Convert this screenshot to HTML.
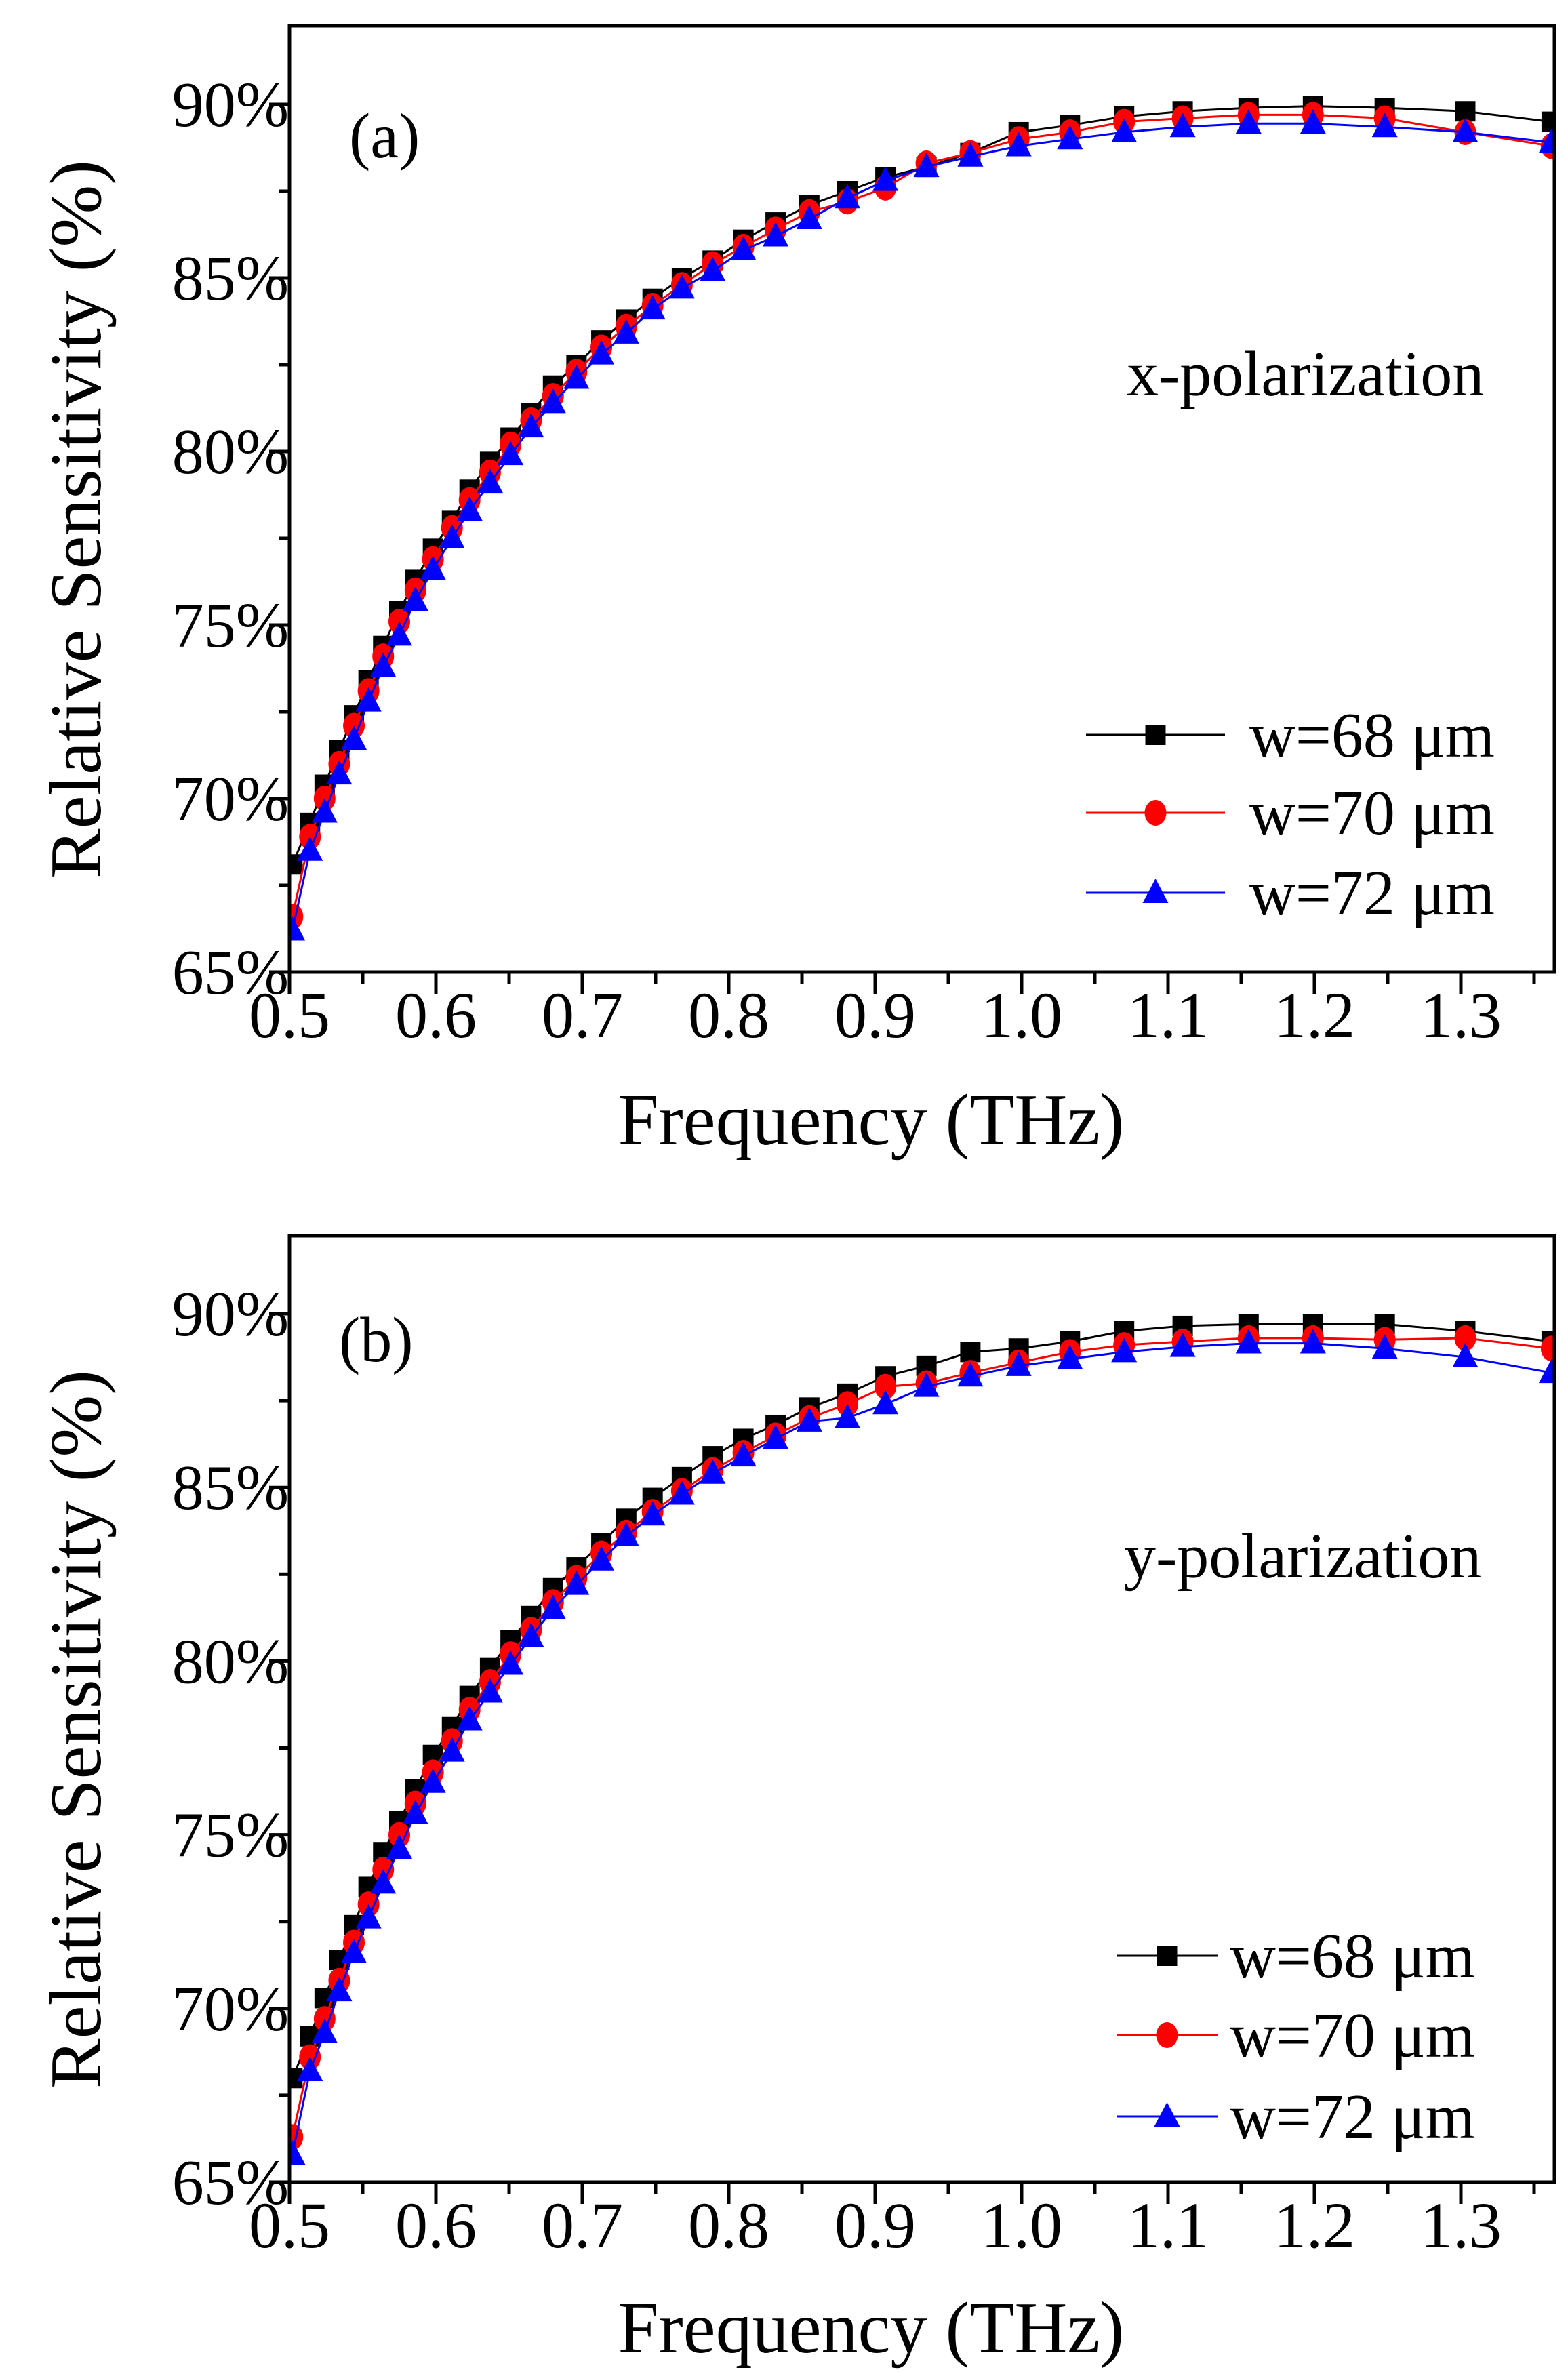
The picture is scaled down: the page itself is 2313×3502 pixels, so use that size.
<!DOCTYPE html>
<html><head><meta charset="utf-8">
<style>
html,body{margin:0;padding:0;background:#fff;}
svg{display:block;}
svg text{font-family:"Liberation Serif","Times New Roman","DejaVu Serif",serif;fill:#000;}
</style></head>
<body>
<svg id="fig" width="2313" height="3502" viewBox="0 0 2313 3502" xmlns="http://www.w3.org/2000/svg"></svg>
<script>
const freqs=[0.502,0.514,0.524,0.534,0.544,0.554,0.564,0.575,0.586,0.598,0.611,0.623,0.637,0.651,0.665,0.680,0.696,0.713,0.730,0.748,0.768,0.789,0.810,0.832,0.855,0.881,0.907,0.935,0.965,0.998,1.033,1.070,1.110,1.155,1.199,1.248,1.303,1.362];
const aW68=[68.1,69.3,70.4,71.4,72.4,73.4,74.4,75.4,76.3,77.2,78.0,78.9,79.7,80.4,81.1,81.9,82.5,83.2,83.8,84.4,85.0,85.5,86.1,86.6,87.1,87.5,87.9,88.2,88.6,89.2,89.4,89.65,89.8,89.9,89.95,89.9,89.8,89.5];
const aW70=[66.6,68.9,70.0,71.0,72.1,73.1,74.1,75.1,76.0,76.9,77.8,78.6,79.4,80.2,80.9,81.6,82.3,83.0,83.6,84.2,84.8,85.4,85.9,86.4,86.9,87.2,87.6,88.3,88.6,89.0,89.2,89.5,89.6,89.7,89.7,89.6,89.2,88.8];
const aW72=[66.2,68.5,69.6,70.7,71.7,72.8,73.8,74.7,75.7,76.6,77.5,78.3,79.1,79.9,80.7,81.4,82.1,82.8,83.4,84.1,84.7,85.2,85.8,86.2,86.7,87.3,87.8,88.2,88.5,88.8,89.0,89.2,89.35,89.45,89.45,89.35,89.2,88.9];
const bW68=[68.0,69.2,70.3,71.4,72.4,73.5,74.5,75.4,76.3,77.3,78.1,79.0,79.8,80.6,81.3,82.1,82.7,83.4,84.1,84.7,85.3,85.9,86.4,86.8,87.3,87.7,88.2,88.5,88.9,89.0,89.2,89.5,89.65,89.7,89.7,89.7,89.5,89.2];
const bW70=[66.3,68.6,69.7,70.8,71.9,73.0,74.0,75.0,75.9,76.8,77.7,78.6,79.4,80.2,80.9,81.7,82.4,83.1,83.7,84.3,84.9,85.5,86.0,86.5,87.0,87.4,87.9,88.0,88.3,88.6,88.9,89.1,89.2,89.3,89.3,89.25,89.3,89.0];
const bW72=[65.8,68.2,69.3,70.5,71.6,72.6,73.6,74.6,75.6,76.5,77.4,78.3,79.1,79.9,80.7,81.5,82.2,82.9,83.6,84.2,84.8,85.4,85.9,86.4,86.9,87.0,87.4,87.9,88.2,88.5,88.7,88.9,89.05,89.15,89.15,89.0,88.75,88.3];
const xTicks=[0.5,0.6,0.7,0.8,0.9,1.0,1.1,1.2,1.3];
const xTickLabels=["0.5","0.6","0.7","0.8","0.9","1.0","1.1","1.2","1.3"];
const yTicks=[65,70,75,80,85,90];
const yTickLabels=["65%","70%","75%","80%","85%","90%"];
const seriesNames=["w=68 μm","w=70 μm","w=72 μm"];

const NS="http://www.w3.org/2000/svg";
const svg=document.getElementById('fig');
function mk(tag,attrs,parent){const e=document.createElementNS(NS,tag);for(const k in attrs)e.setAttribute(k,attrs[k]);(parent||svg).appendChild(e);return e;}
const colors=["#000000","#ff0000","#0000ff"];
const shapes=["square","circle","triangle"];

function marker(g,shape,cx,cy,col){
  let m;
  if(shape==="square"){m=mk('rect',{x:cx-15,y:cy-15,width:30,height:30,fill:col},g);}
  else if(shape==="circle"){m=mk('ellipse',{cx:cx,cy:cy,rx:16,ry:19,fill:col},g);}
  else {m=mk('polygon',{points:`${cx},${cy-21} ${cx-19},${cy+15} ${cx+19},${cy+15}`,fill:col},g);}
  return m;
}
function txt(parent,attrs,s){const t=mk('text',attrs,parent);t.textContent=s;return t;}

function panel(cfg){
  const L=427,R=2293,T=cfg.top,B=cfg.bottom;
  const yTop=cfg.y90, y65=B;
  const xs=v=>L+(v-0.5)/0.1*216;
  const ys=v=>y65-(v-65)/25*(y65-yTop);
  const g=mk('g',{});
  
  
  const clip=mk('clipPath',{id:'clip'+cfg.id},g);
  mk('rect',{x:L,y:T,width:R-L,height:B-T},clip);
  cfg.data.forEach((d,si)=>{
    const sg=mk('g',{'clip-path':`url(#clip${cfg.id})`},g);
    
    
    const pts=d.map((v,i)=>xs(freqs[i]).toFixed(1)+','+ys(v).toFixed(1)).join(' ');
    const pl=mk('polyline',{points:pts,fill:'none',stroke:colors[si],'stroke-width':3},sg);
    
    
    d.forEach((v,i)=>{
      const m=marker(sg,shapes[si],xs(freqs[i]),ys(v),colors[si]);
      
      
    });
  });
  const fr=mk('rect',{x:L,y:T,width:R-L,height:B-T,fill:'none',stroke:'#000','stroke-width':5},g);
  
  
  for(let v=0.5;v<=1.3601;v+=0.05){
    const major=Math.abs(Math.round(v*10)-v*10)<1e-6;
    mk('line',{x1:xs(v),x2:xs(v),y1:B,y2:B+(major?32:17),stroke:'#000','stroke-width':5},g);
  }
  xTicks.forEach((v,i)=>{
    const t=txt(g,{x:xs(v),y:cfg.xLabelY,'font-size':96,'text-anchor':'middle'},xTickLabels[i]);
    
    
  });
  for(let v=65;v<=cfg.yMax;v+=2.5){
    const major=(v%5)===0;
    mk('line',{x1:L,x2:L-(major?30:16),y1:ys(v),y2:ys(v),stroke:'#000','stroke-width':5},g);
  }
  yTicks.forEach((v,i)=>{
    const t=txt(g,{x:426,y:ys(v)+32,'font-size':94,'text-anchor':'end'},yTickLabels[i]);
    
    
  });
  const xt=txt(g,{x:1285,y:cfg.xTitleY,'font-size':108,'text-anchor':'middle'},'Frequency (THz)');
  
  
  const yc=(T+B)/2+30;
  const yt=txt(g,{x:0,y:0,'font-size':108,'text-anchor':'middle',transform:`translate(148,${yc}) rotate(-90)`,textLength:1060,lengthAdjust:'spacingAndGlyphs'},'Relative Sensitivity (%)');
  
  
  const pl=txt(g,{x:cfg.labX,y:cfg.labY,'font-size':94},cfg.label);
  
  
  const pol=txt(g,{x:cfg.polX,y:cfg.polY,'font-size':94},cfg.pol);
  
  
  const lg=mk('g',{},g);
  
  
  cfg.legRows.forEach((ry,si)=>{
    const e=mk('g',{},lg);
    
    
    mk('line',{x1:cfg.legX1,x2:cfg.legX2,y1:ry,y2:ry,stroke:colors[si],'stroke-width':3},e);
    marker(e,shapes[si],(cfg.legX1+cfg.legX2)/2,ry,colors[si]);
    txt(e,{x:cfg.legTX,y:ry+32,'font-size':94},seriesNames[si]);
  });
}

panel({id:'a',name:'panel-a',top:38,bottom:1434,y90:154,yMax:92,data:[aW68,aW70,aW72],
  xLabelY:1530,xTitleY:1688,label:'(a)',labX:515,labY:232,pol:'x-polarization',polX:1662,polY:583,
  legRows:[1084,1199,1317],legX1:1602,legX2:1807,legTX:1843});
panel({id:'b',name:'panel-b',top:1823,bottom:3219,y90:1938,yMax:92,data:[bW68,bW70,bW72],
  xLabelY:3315,xTitleY:3470,label:'(b)',labX:500,labY:2008,pol:'y-polarization',polX:1658,polY:2327,
  legRows:[2885,3002,3122],legX1:1647,legX2:1796,legTX:1814});
</script>
</body></html>
